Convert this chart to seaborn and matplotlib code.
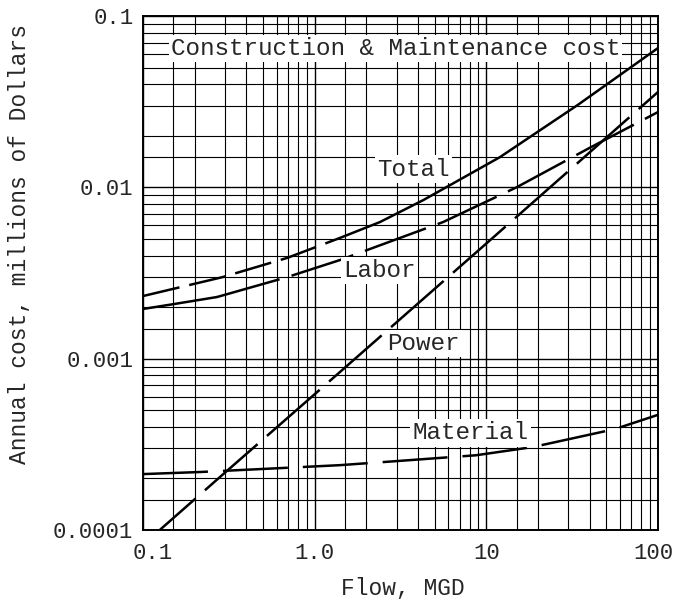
import numpy as np
import pandas as pd
import matplotlib
matplotlib.use("Agg")
import matplotlib.pyplot as plt
import matplotlib.transforms as mtransforms
from matplotlib.ticker import LogLocator, NullFormatter
import seaborn as sns

# ---------- values ----------
flow_total = [0.1, 0.29, 0.69, 1.4, 2.4, 4.3, 12, 18, 34, 100]
cost_total = [0.00232, 0.00299, 0.00387, 0.00506, 0.00627, 0.00843, 0.0150, 0.0197, 0.0302, 0.065]

flow_labor = [0.1, 0.15, 0.27, 0.69, 1.4, 5.6, 15, 40, 100]
cost_labor = [0.00195, 0.00208, 0.00229, 0.00299, 0.00376, 0.00627, 0.0100, 0.0170, 0.0275]

flow_power = [0.1, 0.3, 1, 3, 10, 30, 100]
cost_power = [8.2e-5, 2.16e-4, 6.2e-4, 1.63e-3, 4.7e-3, 1.24e-2, 3.6e-2]

flow_material = [0.1, 0.215, 0.645, 1.4, 3.1, 8.7, 18.7, 56, 100]
cost_material = [0.000212, 0.000218, 0.00023, 0.000239, 0.000253, 0.000273, 0.000305, 0.000388, 0.00047]

x_ticks = [0.1, 1, 10, 100]
x_tick_labels = ["0.1", "1.0", "10", "100"]
y_ticks = [0.0001, 0.001, 0.01, 0.1]
y_tick_labels = ["0.0001", "0.001", "0.01", "0.1"]

sns.set_style("white")
plt.rcParams["font.family"] = ["Liberation Mono", "DejaVu Sans Mono"]

fig = plt.figure(figsize=(6.76, 6.02), dpi=100)
ax = fig.add_axes([0.2115, 0.1196, 0.7618, 0.8538])
ax.set_xscale("log")
ax.set_yscale("log")

LW = 1.8
# Total: broken dashes on the left part, solid on the right
ft = np.array(flow_total)
ct = np.array(cost_total)
sns.lineplot(x=ft[ft <= 1.4], y=ct[ft <= 1.4], ax=ax, color="black", lw=LW,
             linestyle=(0, (15, 4)))
sns.lineplot(x=ft[ft >= 1.4], y=ct[ft >= 1.4], ax=ax, color="black", lw=LW)

# Labor: solid start, then long dashes
fl = np.array(flow_labor)
cl = np.array(cost_labor)
sns.lineplot(x=fl[fl <= 0.27], y=cl[fl <= 0.27], ax=ax, color="black", lw=LW)
sns.lineplot(x=fl[fl >= 0.27], y=cl[fl >= 0.27], ax=ax, color="black", lw=LW,
             linestyle=(0, (26, 5)))

sns.lineplot(x=flow_power, y=cost_power, ax=ax, color="black", lw=LW,
             linestyle=(0, (28, 5)))
sns.lineplot(x=flow_material, y=cost_material, ax=ax, color="black", lw=LW,
             linestyle=(0, (26, 6)))

ax.set_xlim(0.1, 100)
ax.set_ylim(0.0001, 0.1)

# ---------- grid & ticks ----------
subs = [1.5, 2, 3, 4, 5, 6, 7, 8, 9]
ax.xaxis.set_minor_locator(LogLocator(base=10, subs=subs, numticks=30))
ax.yaxis.set_minor_locator(LogLocator(base=10, subs=subs, numticks=30))
ax.xaxis.set_minor_formatter(NullFormatter())
ax.yaxis.set_minor_formatter(NullFormatter())
ax.set_xticks(x_ticks)
ax.set_xticklabels(x_tick_labels)
ax.set_yticks(y_ticks)
ax.set_yticklabels(y_tick_labels)
ax.grid(True, which="major", color="black", lw=1.0)
ax.grid(True, which="minor", color="black", lw=0.8)
ax.set_axisbelow(True)
ax.tick_params(which="both", length=0)
ax.tick_params(axis="x", labelsize=16, pad=9.5)
ax.tick_params(axis="y", labelsize=16, pad=7)
for sp in ax.spines.values():
    sp.set_color("black")
    sp.set_linewidth(1.4)

# end x labels are nudged inwards in the original
xlabels = ax.get_xticklabels()
for lbl, dx in ((xlabels[0], 0.10), (xlabels[-1], -0.05)):
    lbl.set_transform(lbl.get_transform()
                      + mtransforms.ScaledTranslation(dx, 0, fig.dpi_scale_trans))

ax.set_xlabel("Flow, MGD", fontsize=16.5, va="center")
ax.xaxis.set_label_coords(0.505, -0.113)
ax.set_ylabel("Annual cost, millions of Dollars", fontsize=16.5, va="center")
ax.yaxis.set_label_coords(-0.239, 0.557)

# ---------- curve labels ----------
box = dict(facecolor="white", edgecolor="none", pad=1.5)
ax.text(2.96, 0.0591, "Construction & Maintenance cost", fontsize=17.5,
        ha="center", va="baseline", bbox=box)
ax.text(3.76, 0.0117, "Total", fontsize=17.5, ha="center", va="baseline", bbox=box)
ax.text(2.40, 0.00299, "Labor", fontsize=17.5, ha="center", va="baseline", bbox=box)
ax.text(4.30, 0.00112, "Power", fontsize=17.5, ha="center", va="baseline", bbox=box)
ax.text(8.08, 0.000338, "Material", fontsize=17.5, ha="center", va="baseline", bbox=box)

fig.savefig("out.png", dpi=100)
